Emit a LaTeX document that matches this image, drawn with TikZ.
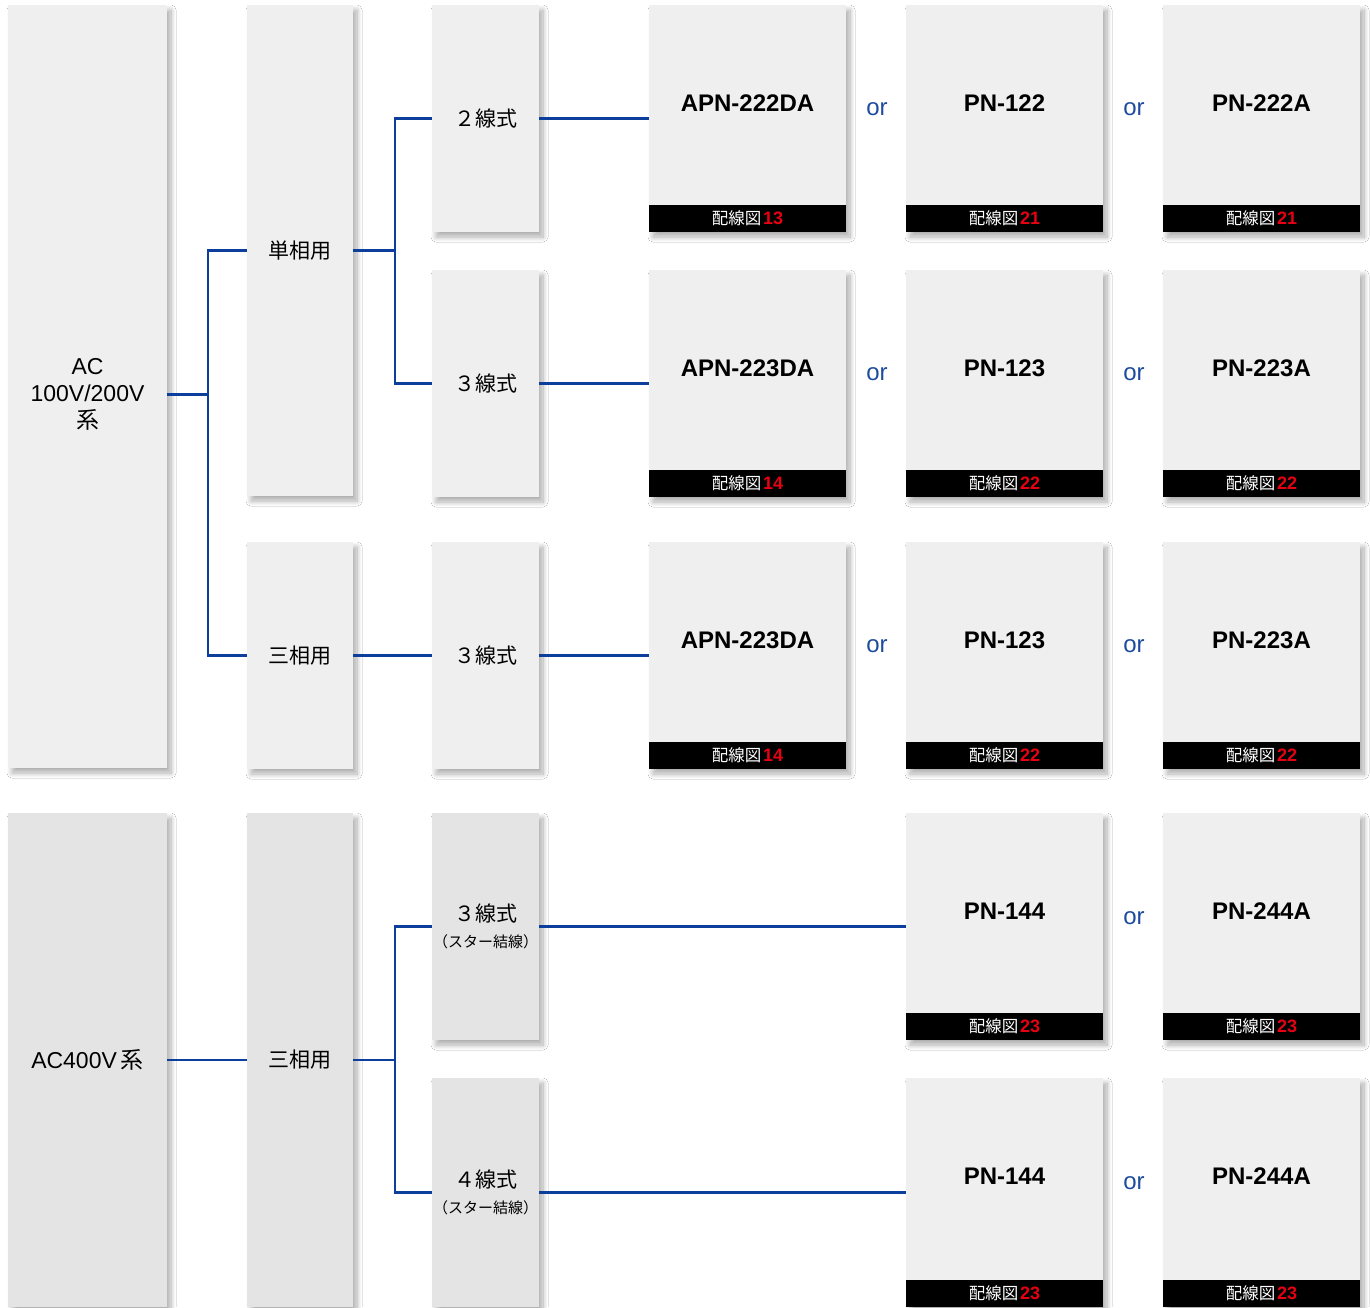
\documentclass[tikz,border=0pt]{standalone}
\usepackage{fontspec}
\setmainfont{Liberation Sans}
\newfontfamily\jp{Noto Sans CJK JP}
\usetikzlibrary{shadows.blur}
\definecolor{lineblue}{HTML}{0B3F9B}
\definecolor{orblue}{HTML}{1D4C9E}
\definecolor{boxgrey}{HTML}{EFEFEF}
\definecolor{darkgrey}{HTML}{E4E4E4}
\definecolor{numred}{HTML}{E60012}
\newcommand{\zu}[1]{{\jp\fontsize{16.5}{18}\selectfont\color{white}配線図}\,{\bfseries\fontsize{18}{18}\selectfont\color{numred}#1}}

\begin{document}
\begin{tikzpicture}[x=1pt, y=-1pt,
    box/.style={fill=boxgrey, anchor=north west, inner sep=0pt, outer sep=0pt,
      blur shadow={shadow xshift=4pt, shadow yshift=-5pt, shadow blur radius=5pt, shadow blur steps=14, shadow blur extra rounding=0pt, shadow opacity=32}},
    dark/.style={box, fill=darkgrey},
    modelbox/.style={box, minimum width=197pt, minimum height=227pt},
    model/.style={font={\bfseries\fontsize{24}{26}\selectfont}, inner sep=0pt},
    bar/.style={fill=black, anchor=south, inner sep=0pt, minimum width=197pt, minimum height=27pt},
    jtext/.style={font={\jp\fontsize{21}{26}\selectfont}, align=center},
    orlabel/.style={text=orblue, font={\fontsize{24}{26}\selectfont}, inner sep=0pt},
    wire/.style={lineblue, line width=2.5pt}]
    \fill[white] (0,0) rectangle (1370,1307);
    \useasboundingbox (0,0) rectangle (1370,1307);
    % Power supply
    \node[box, minimum width=159pt, minimum height=763pt] (ac) at (8,5) {};
    \node[align=center, font={\fontsize{23}{27}\selectfont}] (actext) at ([yshift=-8pt]ac.center) {AC\\100V/200V\\{\jp 系}};
    \node[dark, minimum width=159pt, minimum height=494pt, font={\fontsize{23}{27}\selectfont}] (ac4) at (8,813) {AC400V\,{\jp 系}};
    % Phase
    \node[box, jtext, minimum width=106pt, minimum height=491pt] (tan) at (247,5) {単相用};
    \node[box, jtext, minimum width=106pt, minimum height=227pt] (san) at (247,542) {三相用};
    \node[dark, jtext, minimum width=106pt, minimum height=494pt] (san4) at (247,813) {三相用};
    % Wiring system
    \node[box, jtext, minimum width=107pt, minimum height=227pt] (w2) at (432,5) {２線式};
    \node[box, jtext, minimum width=107pt, minimum height=227pt] (w3) at (432,270) {３線式};
    \node[box, jtext, minimum width=107pt, minimum height=227pt] (w3s) at (432,542) {３線式};
    \node[dark, jtext, minimum width=107pt, minimum height=227pt] (w3y) at (432,813) {３線式\\{\fontsize{15}{19}\selectfont（スター結線）}};
    \node[dark, jtext, minimum width=107pt, minimum height=229pt] (w4y) at (432,1078) {４線式\\{\fontsize{15}{19}\selectfont（スター結線）}};
    % Models, row 1
    \node[modelbox] (m11) at (649,5) {};
    \node[modelbox] (m12) at (906,5) {};
    \node[modelbox] (m13) at (1163,5) {};
    \node[model] (n11) at ([yshift=-98pt]m11.north) {APN-222DA};
    \node[model] (n12) at ([yshift=-98pt]m12.north) {PN-122};
    \node[model] (n13) at ([yshift=-98pt]m13.north) {PN-222A};
    \node[bar] (b11) at (m11.south) {\zu{13}};
    \node[bar] (b12) at (m12.south) {\zu{21}};
    \node[bar] (b13) at (m13.south) {\zu{21}};
    % Models, row 2
    \node[modelbox] (m21) at (649,270) {};
    \node[modelbox] (m22) at (906,270) {};
    \node[modelbox] (m23) at (1163,270) {};
    \node[model] (n21) at ([yshift=-98pt]m21.north) {APN-223DA};
    \node[model] (n22) at ([yshift=-98pt]m22.north) {PN-123};
    \node[model] (n23) at ([yshift=-98pt]m23.north) {PN-223A};
    \node[bar] (b21) at (m21.south) {\zu{14}};
    \node[bar] (b22) at (m22.south) {\zu{22}};
    \node[bar] (b23) at (m23.south) {\zu{22}};
    % Models, row 3
    \node[modelbox] (m31) at (649,542) {};
    \node[modelbox] (m32) at (906,542) {};
    \node[modelbox] (m33) at (1163,542) {};
    \node[model] (n31) at ([yshift=-98pt]m31.north) {APN-223DA};
    \node[model] (n32) at ([yshift=-98pt]m32.north) {PN-123};
    \node[model] (n33) at ([yshift=-98pt]m33.north) {PN-223A};
    \node[bar] (b31) at (m31.south) {\zu{14}};
    \node[bar] (b32) at (m32.south) {\zu{22}};
    \node[bar] (b33) at (m33.south) {\zu{22}};
    % Models, AC400V
    \node[modelbox] (m42) at (906,813) {};
    \node[modelbox] (m43) at (1163,813) {};
    \node[model] (n42) at ([yshift=-98pt]m42.north) {PN-144};
    \node[model] (n43) at ([yshift=-98pt]m43.north) {PN-244A};
    \node[bar] (b42) at (m42.south) {\zu{23}};
    \node[bar] (b43) at (m43.south) {\zu{23}};
    \node[modelbox, minimum height=229pt] (m52) at (906,1078) {};
    \node[modelbox, minimum height=229pt] (m53) at (1163,1078) {};
    \node[model] (n52) at ([yshift=-98pt]m52.north) {PN-144};
    \node[model] (n53) at ([yshift=-98pt]m53.north) {PN-244A};
    \node[bar] (b52) at (m52.south) {\zu{23}};
    \node[bar] (b53) at (m53.south) {\zu{23}};
    % or
    \node[orlabel] (or12) at (877,109) {or};
    \node[orlabel] (or13) at (1134,109) {or};
    \node[orlabel] (or22) at (877,374) {or};
    \node[orlabel] (or23) at (1134,374) {or};
    \node[orlabel] (or32) at (877,646) {or};
    \node[orlabel] (or33) at (1134,646) {or};
    \node[orlabel] (or43) at (1134,918) {or};
    \node[orlabel] (or53) at (1134,1183) {or};
    % Connectors
    \draw[wire] (ac.east |- actext.center) -- ++(41,0) coordinate (j1);
    \draw[wire] (tan.west) -| (j1);
    \draw[wire] (san.west) -| (j1);
    \draw[wire] (tan.east) -- ++(42,0) coordinate (j2);
    \draw[wire] (w2.west) -| (j2);
    \draw[wire] (w3.west) -| (j2);
    \draw[wire] (w2.east) -- (m11.west);
    \draw[wire] (w3.east) -- (m21.west);
    \draw[wire] (san.east) -- (w3s.west);
    \draw[wire] (w3s.east) -- (m31.west);
    \draw[wire] (ac4.east) -- (san4.west);
    \draw[wire] (san4.east) -- ++(42,0) coordinate (j4);
    \draw[wire] (w3y.west) -| (j4);
    \draw[wire] (w4y.west) -| (j4);
    \draw[wire] (w3y.east) -- (m42.west);
    \draw[wire] (w4y.east) -- (m52.west);
\end{tikzpicture}
\end{document}
